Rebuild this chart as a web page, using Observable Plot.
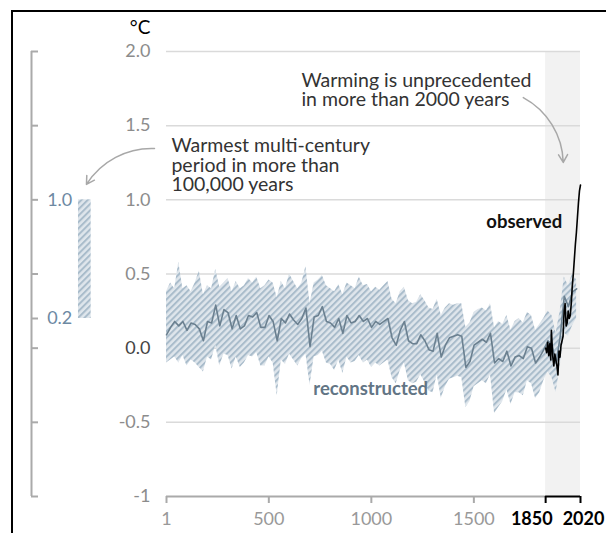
<!DOCTYPE html>
<html><head><meta charset="utf-8">
<script src="https://cdn.jsdelivr.net/npm/d3@7"></script>
<script src="https://cdn.jsdelivr.net/npm/@observablehq/plot@0.6"></script>
<style>
html,body{margin:0;padding:0;background:#fff;overflow:hidden;}
#wrap{position:relative;width:606px;height:533px;overflow:hidden;font-family:Lato,sans-serif;background:#fff;}
#wrap svg{position:absolute;left:0;top:0;}
#border{position:absolute;left:11px;top:10px;width:800px;height:800px;border:2px solid #000;box-sizing:border-box;}
</style></head><body><div id="wrap"><div id="border"></div></div>
<script>
// ---- data ----
const reconYears = d3.range(1, 2002, 20); // 1, 21, ..., 2001
const reconMedian = [
  0.09, 0.14, 0.18, 0.15, 0.18, 0.12, 0.17, 0.16, 0.13, 0.05,
  0.18, 0.17, 0.29, 0.15, 0.26, 0.24, 0.13, 0.22, 0.13, 0.15,
  0.22, 0.21, 0.24, 0.14, 0.14, 0.22, 0.18, 0.05, 0.20, 0.17,
  0.23, 0.19, 0.16, 0.20, 0.27, 0.01, 0.21, 0.22, 0.28, 0.18,
  0.17, 0.14, 0.20, 0.10, 0.22, 0.17, 0.18, 0.22, 0.18, 0.20,
  0.14, 0.18, 0.16, 0.18, 0.20, 0.07, 0.02, 0.12, 0.18, 0.05,
  0.03, 0.03, 0.09, 0.05, -0.01, -0.02, 0.10, -0.06, 0.02, 0.07,
  0.08, 0.09, 0.08, -0.13, -0.09, 0.02, 0.04, 0.06, 0.04, 0.10,
  -0.10, -0.07, -0.09, -0.02, -0.12, -0.06, -0.05, -0.07, 0.01, 0.00,
  -0.10, -0.06, -0.01, 0.05, 0.02, -0.10, 0.08, 0.35, 0.28, 0.38,
  0.40
];
const reconUpper = [
  0.38, 0.44, 0.40, 0.58, 0.40, 0.42, 0.38, 0.44, 0.52, 0.36,
  0.42, 0.40, 0.53, 0.41, 0.44, 0.47, 0.38, 0.45, 0.40, 0.42,
  0.47, 0.44, 0.48, 0.40, 0.42, 0.46, 0.44, 0.34, 0.45, 0.40,
  0.50, 0.45, 0.40, 0.44, 0.55, 0.30, 0.44, 0.46, 0.49, 0.42,
  0.40, 0.38, 0.43, 0.36, 0.44, 0.42, 0.40, 0.48, 0.42, 0.43,
  0.38, 0.41, 0.39, 0.42, 0.45, 0.33, 0.30, 0.38, 0.41, 0.32,
  0.30, 0.31, 0.36, 0.32, 0.27, 0.26, 0.33, 0.22, 0.27, 0.30,
  0.29, 0.30, 0.30, 0.14, 0.17, 0.24, 0.26, 0.27, 0.25, 0.30,
  0.14, 0.18, 0.16, 0.22, 0.12, 0.18, 0.20, 0.17, 0.24, 0.22,
  0.12, 0.16, 0.20, 0.25, 0.22, 0.10, 0.25, 0.48, 0.42, 0.50,
  0.46
];
const reconLower = [
  -0.10, -0.08, -0.06, -0.10, -0.05, -0.12, -0.08, -0.10, -0.13, -0.16,
  -0.06, -0.08, 0.02, -0.12, -0.04, -0.05, -0.14, -0.06, -0.13, -0.10,
  -0.05, -0.06, -0.03, -0.12, -0.12, -0.06, -0.10, -0.32, -0.08, -0.11,
  -0.04, -0.08, -0.12, -0.07, -0.04, -0.25, -0.06, -0.05, -0.02, -0.10,
  -0.11, -0.15, -0.08, -0.17, -0.06, -0.10, -0.09, -0.05, -0.10, -0.08,
  -0.13, -0.10, -0.12, -0.10, -0.08, -0.20, -0.24, -0.15, -0.10, -0.22,
  -0.24, -0.23, -0.18, -0.23, -0.29, -0.30, -0.18, -0.34, -0.26, -0.21,
  -0.20, -0.19, -0.20, -0.40, -0.36, -0.26, -0.24, -0.22, -0.24, -0.18,
  -0.44, -0.40, -0.36, -0.28, -0.38, -0.30, -0.30, -0.32, -0.22, -0.24,
  -0.34, -0.30, -0.22, -0.16, -0.20, -0.30, -0.12, 0.10, 0.08, 0.15,
  0.20
];
const obsYears = [1850,1855,1860,1865,1870,1875,1878,1885,1890,1895,1900,1905,1910,1915,1920,1925,1930,1935,1940,1945,1950,1955,1960,1965,1970,1975,1980,1985,1990,1995,2000,2005,2010,2015,2020];
const obsValues = [0.00,-0.03,0.04,-0.05,0.03,-0.08,0.12,-0.06,-0.12,-0.04,-0.08,-0.12,-0.18,-0.02,-0.06,0.02,0.05,0.08,0.25,0.30,0.15,0.17,0.25,0.20,0.22,0.30,0.42,0.50,0.60,0.70,0.78,0.88,0.98,1.06,1.10];

const yTicks = [-1, -0.5, 0.5, 1, 1.5, 2];
const yZeroTick = [0];
const gridValues = [-0.5, 0, 0.5, 1, 1.5, 2];
const xTicksGray = [1, 500, 1000, 1500];
const xTicksBold = [1850, 2020];
const yDomain = [-1, 2];
const modernPeriod = [1850, 2020];
const warmRange = [0.2, 1.0];          // warmest multi-century period (°C)
const insetTicks = [-1, -0.5, 0, 0.2, 0.5, 1, 1.5, 2];
const insetLabels = [1.0, 0.2];
const noteWarming = "Warming is unprecedented\nin more than 2000 years";
const noteWarmest = "Warmest multi-century\nperiod in more than\n100,000 years";

const recon = reconYears.map((year, i) => ({year, med: reconMedian[i], hi: reconUpper[i], lo: reconLower[i]}));
const obs = obsYears.map((year, i) => ({year, value: obsValues[i]}));
const fmt = d => d === -1 ? "-1" : (d < 0 ? "-" + Math.abs(d).toFixed(1) : d.toFixed(1));

function addHatch(svg, id) {
  const ns = "http://www.w3.org/2000/svg";
  const defs = document.createElementNS(ns, "defs");
  const p = document.createElementNS(ns, "pattern");
  p.setAttribute("id", id);
  p.setAttribute("patternUnits", "userSpaceOnUse");
  p.setAttribute("width", 4.5); p.setAttribute("height", 4.5);
  p.setAttribute("patternTransform", "rotate(45)");
  const bg = document.createElementNS(ns, "rect");
  bg.setAttribute("width", 4.5); bg.setAttribute("height", 4.5); bg.setAttribute("fill", "#dfe6ec");
  const st = document.createElementNS(ns, "rect");
  st.setAttribute("width", 2); st.setAttribute("height", 4.5); st.setAttribute("fill", "#a9bccb");
  p.appendChild(bg); p.appendChild(st); defs.appendChild(p);
  svg.insertBefore(defs, svg.firstChild);
}

const baseStyle = {background: "transparent", fontFamily: "Lato, sans-serif", fontSize: "18px", overflow: "visible"};

const main = Plot.plot({
  width: 606, height: 533,
  marginLeft: 166, marginRight: 26, marginTop: 51, marginBottom: 37,
  style: baseStyle,
  x: {domain: [1, 2020], axis: null, label: null},
  y: {domain: yDomain, axis: null, label: null},
  marks: [
    Plot.rect([modernPeriod], {x1: d => d[0], x2: d => d[1], y1: yDomain[0], y2: yDomain[1], fill: "#f2f2f2"}),
    Plot.ruleY(gridValues, {x1: 1, x2: 2020, stroke: "#dadada", strokeWidth: 1.5}),
    Plot.ruleY([yDomain[0]], {x1: 1, x2: 1850, stroke: "#aaa", strokeWidth: 2}),
    Plot.areaY(recon, {x: "year", y1: "lo", y2: "hi", fill: "url(#hatchMain)"}),
    Plot.lineY(recon, {x: "year", y: "med", stroke: "#6b8090", strokeWidth: 1.6}),
    Plot.lineY(obs, {x: "year", y: "value", stroke: "#000", strokeWidth: 1.6}),
    Plot.ruleY([yDomain[0]], {x1: 1850, x2: 2020, stroke: "#000", strokeWidth: 2}),
    Plot.axisX(xTicksGray, {label: null, tickSize: 7, tickPadding: 9, stroke: "#aaa", strokeWidth: 2, fill: "#999", fontSize: 18, tickFormat: d => String(d)}),
    Plot.axisX(xTicksBold, {label: null, tickSize: 7, stroke: "#000", strokeWidth: 2, tickFormat: () => ""}),
    Plot.text([xTicksBold[0]], {x: d => d, y: yDomain[0], dy: 16, dx: 7, lineAnchor: "top", textAnchor: "end", text: d => String(d), fontWeight: "bold", fill: "#000", fontSize: 18}),
    Plot.text([xTicksBold[1]], {x: d => d, y: yDomain[0], dy: 16, dx: 3, lineAnchor: "top", textAnchor: "middle", text: d => String(d), fontWeight: "bold", fill: "#000", fontSize: 18}),
    Plot.axisY(yTicks, {label: null, tickSize: 0, tickPadding: 16, fill: "#8c8c8c", fontSize: 18, tickFormat: fmt}),
    Plot.axisY(yZeroTick, {label: null, tickSize: 0, tickPadding: 16, fill: "#444", fontSize: 18, tickFormat: fmt}),
    Plot.text([noteWarming], {x: 659, y: 1.856, text: d => d, lineAnchor: "top", textAnchor: "start", fill: "#333", fontSize: 19.5, lineHeight: 0.99}),
    Plot.text([noteWarmest], {x: 25, y: 1.412, text: d => d, lineAnchor: "top", textAnchor: "start", fill: "#333", fontSize: 19.5, lineHeight: 0.99}),
    Plot.text(["observed"], {x: 1931, y: 0.849, text: d => d, textAnchor: "end", fontWeight: "bold", fill: "#111", fontSize: 18.5}),
    Plot.text(["reconstructed"], {x: 717, y: -0.277, text: d => d, textAnchor: "start", fontWeight: "bold", fill: "#627585", fontSize: 18.5}),
    Plot.arrow([0], {x1: 1741, y1: 1.689, x2: 1936, y2: 1.252, bend: 30, stroke: "#a8a8a8", strokeWidth: 1.5, headLength: 9})
  ]
});
addHatch(main, "hatchMain");

const inset = Plot.plot({
  width: 166, height: 533,
  marginLeft: 0, marginRight: 0, marginTop: 51, marginBottom: 37,
  style: baseStyle,
  x: {domain: [0, 1], range: [31, 166], axis: null},
  y: {domain: yDomain, axis: null},
  marks: [
    Plot.ruleX([0], {y1: yDomain[0], y2: yDomain[1], stroke: "#aaa", strokeWidth: 2}),
    Plot.ruleY(insetTicks, {x1: 0, x2: 0.052, stroke: "#aaa", strokeWidth: 2}),
    Plot.rect([warmRange], {x1: 0.348, x2: 0.442, y1: d => d[0], y2: d => d[1], fill: "url(#hatchInset)"}),
    Plot.text(insetLabels, {x: 0.116, y: d => d, text: d => d.toFixed(1), textAnchor: "start", fill: "#6d89a3", fontSize: 18}),
    Plot.text(["°C"], {x: 0.881, y: yDomain[1], dy: -24, text: d => d, textAnchor: "end", fill: "#000", fontSize: 19}),
    Plot.arrow([0], {x1: 0.911, y1: 1.346, x2: 0.407, y2: 1.104, bend: -30, stroke: "#a8a8a8", strokeWidth: 1.5, headLength: 9})
  ]
});
addHatch(inset, "hatchInset");

const wrap = document.getElementById("wrap");
wrap.appendChild(main);
wrap.appendChild(inset);
</script></body></html>
